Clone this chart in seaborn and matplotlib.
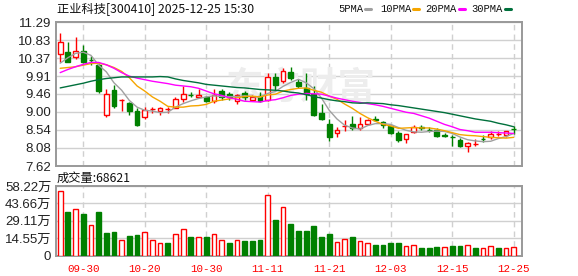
import numpy as np
import pandas as pd
import matplotlib
matplotlib.use("Agg")
import matplotlib.pyplot as plt
import seaborn as sns
from matplotlib.lines import Line2D

# ---------------- data ----------------
dates = ["09-25", "09-26", "09-29", "09-30", "10-09", "10-10", "10-13", "10-14", "10-15", "10-16",
         "10-17", "10-20", "10-21", "10-22", "10-23", "10-24", "10-27", "10-28", "10-29", "10-30",
         "10-31", "11-03", "11-04", "11-05", "11-06", "11-07", "11-10", "11-11", "11-12", "11-13",
         "11-14", "11-17", "11-18", "11-19", "11-20", "11-21", "11-24", "11-25", "11-26", "11-27",
         "11-28", "12-01", "12-02", "12-03", "12-04", "12-05", "12-08", "12-09", "12-10", "12-11",
         "12-12", "12-15", "12-16", "12-17", "12-18", "12-19", "12-22", "12-23", "12-24", "12-25"]

opens = [10.48, 10.52, 10.39, 10.56, 10.32, 10.19, 8.93, 9.56, 9.30, 9.22,
         9.03, 8.88, 9.06, 9.01, 9.07, 9.10, 9.33, 9.43, 9.37, 9.38,
         9.28, 9.54, 9.45, 9.27, 9.48, 9.31, 9.41, 9.31, 9.90, 9.79,
         10.02, 9.77, 9.60, 9.46, 8.97, 8.70, 8.46, 8.63, 8.70, 8.59,
         8.69, 8.83, 8.74, 8.63, 8.46, 8.32, 8.48, 8.61, 8.55, 8.55,
         8.40, 8.37, 8.27, 8.12, 8.18, 8.31, 8.36, 8.43, 8.40, 8.57]
closes = [10.77, 10.28, 10.56, 10.27, 10.31, 9.52, 9.45, 9.16, 9.31, 9.03,
          8.66, 9.04, 9.07, 9.10, 9.08, 9.33, 9.45, 9.42, 9.43, 9.28,
          9.42, 9.39, 9.38, 9.43, 9.38, 9.37, 9.27, 9.89, 9.69, 10.03,
          9.87, 9.67, 9.45, 8.91, 8.83, 8.35, 8.55, 8.64, 8.59, 8.69,
          8.80, 8.78, 8.66, 8.46, 8.29, 8.44, 8.61, 8.60, 8.54, 8.38,
          8.39, 8.36, 8.13, 8.21, 8.19, 8.30, 8.44, 8.44, 8.50, 8.56]
highs = [11.01, 10.77, 10.91, 10.70, 10.43, 10.22, 9.58, 9.68, 9.34, 9.26,
         9.10, 9.12, 9.12, 9.12, 9.12, 9.37, 9.65, 9.51, 9.57, 9.40,
         9.58, 9.59, 9.51, 9.45, 9.54, 9.44, 9.51, 9.99, 9.99, 10.13,
         10.15, 9.83, 10.00, 9.65, 9.20, 8.83, 8.61, 8.78, 8.89, 8.87,
         8.83, 8.90, 8.77, 8.65, 8.52, 8.44, 8.67, 8.67, 8.61, 8.59,
         8.45, 8.42, 8.34, 8.23, 8.31, 8.42, 8.50, 8.51, 8.52, 8.63]
lows = [10.28, 10.26, 10.34, 10.24, 10.20, 9.49, 8.87, 9.11, 9.03, 8.93,
        8.65, 8.83, 8.97, 8.93, 8.97, 9.10, 9.25, 9.37, 9.37, 9.25,
        9.23, 9.31, 9.31, 9.19, 9.31, 9.28, 9.25, 9.27, 9.55, 9.73,
        9.82, 9.62, 9.31, 8.89, 8.78, 8.25, 8.35, 8.52, 8.55, 8.55,
        8.66, 8.76, 8.59, 8.44, 8.23, 8.20, 8.45, 8.55, 8.49, 8.36,
        8.35, 8.12, 8.10, 7.98, 8.12, 8.22, 8.32, 8.38, 8.36, 8.44]

# volume in 万 (10k), colour as shown in the volume panel (R = up, G = down)
volumes = [54.0, 36.4, 38.7, 34.7, 25.2, 36.4, 18.7, 19.6, 12.8, 16.2,
           17.1, 19.3, 12.8, 10.1, 10.3, 17.6, 22.0, 15.4, 15.1, 15.4,
           17.6, 13.4, 10.3, 12.8, 12.0, 12.0, 13.0, 50.4, 29.7, 40.3,
           26.3, 20.4, 20.4, 24.6, 15.4, 17.9, 10.9, 13.6, 15.4, 11.9,
           10.1, 8.7, 8.7, 10.3, 10.3, 7.6, 9.2, 6.1, 6.1, 7.0,
           7.0, 7.8, 7.8, 9.2, 6.1, 6.1, 7.6, 6.1, 6.1, 6.86]
vol_up = ("RGRGRGGGRG" "GRRRGRRGRG" "RRGRGGGRGR"
          "GGGGGGRRGR" "RGGGGRRGGG" "RGGRGRRGRR")

ma5 = [10.24, 10.38, 10.49, 10.52, 10.44, 10.19, 10.02, 9.74, 9.55, 9.29,
       9.12, 9.04, 9.02, 8.98, 8.99, 9.12, 9.21, 9.28, 9.34, 9.38,
       9.41, 9.39, 9.39, 9.39, 9.41, 9.39, 9.37, 9.47, 9.52, 9.65,
       9.75, 9.83, 9.74, 9.59, 9.35, 9.04, 8.82, 8.66, 8.59, 8.56,
       8.65, 8.70, 8.70, 8.68, 8.60, 8.53, 8.49, 8.48, 8.50, 8.51,
       8.50, 8.45, 8.36, 8.29, 8.26, 8.24, 8.25, 8.32, 8.37, 8.45]
ma10 = [10.11, 10.13, 10.15, 10.19, 10.23, 10.24, 10.20, 10.13, 10.03, 9.87,
        9.66, 9.53, 9.38, 9.27, 9.14, 9.12, 9.12, 9.15, 9.16, 9.19,
        9.27, 9.30, 9.33, 9.36, 9.39, 9.40, 9.38, 9.43, 9.45, 9.53,
        9.57, 9.60, 9.61, 9.55, 9.50, 9.40, 9.32, 9.20, 9.09, 8.96,
        8.85, 8.76, 8.68, 8.64, 8.58, 8.59, 8.60, 8.59, 8.59, 8.56,
        8.52, 8.47, 8.42, 8.40, 8.39, 8.37, 8.35, 8.34, 8.33, 8.35]
ma20 = [10.00, 10.08, 10.15, 10.21, 10.26, 10.26, 10.20, 10.11, 10.00, 9.91,
        9.86, 9.82, 9.78, 9.75, 9.72, 9.68, 9.66, 9.64, 9.60, 9.53,
        9.46, 9.42, 9.36, 9.32, 9.27, 9.26, 9.25, 9.29, 9.31, 9.36,
        9.42, 9.45, 9.47, 9.46, 9.45, 9.40, 9.35, 9.31, 9.27, 9.24,
        9.21, 9.18, 9.14, 9.09, 9.04, 8.99, 8.96, 8.90, 8.84, 8.76,
        8.68, 8.62, 8.55, 8.52, 8.48, 8.48, 8.48, 8.47, 8.46, 8.45]
ma30 = [9.61, 9.65, 9.69, 9.73, 9.78, 9.82, 9.85, 9.87, 9.89, 9.89,
        9.89, 9.89, 9.89, 9.90, 9.89, 9.84, 9.80, 9.77, 9.74, 9.70,
        9.68, 9.66, 9.64, 9.62, 9.61, 9.59, 9.57, 9.56, 9.55, 9.53,
        9.50, 9.48, 9.44, 9.39, 9.35, 9.31, 9.28, 9.26, 9.23, 9.22,
        9.23, 9.22, 9.21, 9.18, 9.16, 9.13, 9.10, 9.07, 9.04, 9.01,
        8.98, 8.94, 8.90, 8.86, 8.82, 8.79, 8.76, 8.71, 8.67, 8.62]

price_ticks = ["11.29", "10.83", "10.37", "9.91", "9.46", "9.00", "8.54", "8.08", "7.62"]
vol_ticks = [0, 14.55, 29.11, 43.66, 58.22]
vol_tick_labels = ["0", "14.55万", "29.11万", "43.66万", "58.22万"]
date_ticks = ["09-30", "10-20", "10-30", "11-11", "11-21", "12-03", "12-15", "12-25"]
ma_names = ["5PMA", "10PMA", "20PMA", "30PMA"]
ma_colors = ["#a0a0a0", "#f5a500", "#ff00ff", "#00703c"]
title = "正业科技[300410] 2025-12-25 15:30"
vol_title = "成交量:68621"

# ---------------- style ----------------
sns.set_style("white")
plt.rcParams['font.family'] = ['Liberation Sans', 'Noto Sans CJK SC']

RED = "#ff0000"
GREEN = "#008000"
GRID = "#d0d0d0"
SPINE = "#999999"

W, H = 578, 276
fig = plt.figure(figsize=(W / 100, H / 100), dpi=100)
fig.patch.set_facecolor("white")

def fx(px):
    return px / W

def fy(py):
    return 1 - py / H

L, R = 55.5, 522.0
ax = fig.add_axes([fx(L), fy(166), (R - L) / W, (166 - 22) / H])
axv = fig.add_axes([fx(L), fy(255.5), (R - L) / W, (255.5 - 186) / H])

n = len(dates)
x = np.arange(n)
o = np.array(opens); c = np.array(closes)
hi = np.array(highs); lo = np.array(lows)
up = c >= o
bw = 0.62

# ---- price panel ----
tick_pos = [dates.index(d) for d in date_ticks]
pvals = [float(t) for t in price_ticks]
for v in pvals:
    ax.axhline(v, color=GRID, lw=1, zorder=0)
for p in tick_pos:
    ax.axvline(p, color=GRID, lw=1, ls=(0, (4, 3)), zorder=0)

ax.text(0.525, 0.54, "东方财富", transform=ax.transAxes, ha="center", va="center",
        fontsize=27, color="#ededed", fontweight="bold", style="italic",
        family=["Noto Sans CJK SC"], zorder=0.5)

cols = np.where(up, RED, GREEN)
ax.vlines(x, lo, hi, colors=cols, lw=1, zorder=2)
ax.bar(x[up], (c - o)[up], bottom=o[up], width=bw, facecolor="white",
       edgecolor=RED, linewidth=1, zorder=3)
ax.bar(x[~up], (c - o)[~up], bottom=o[~up], width=bw, facecolor=GREEN,
       edgecolor=GREEN, linewidth=1, zorder=3)

ma_df = pd.DataFrame({"idx": np.tile(x, 4),
                      "value": np.concatenate([ma5, ma10, ma20, ma30]),
                      "ma": np.repeat(ma_names, n)})
sns.lineplot(data=ma_df, x="idx", y="value", hue="ma", palette=dict(zip(ma_names, ma_colors)),
             linewidth=1, ax=ax, legend=False, zorder=4)

ax.set_xlim(-0.61, 60.08)
ax.set_ylim(7.62, 11.29)
ax.set_yticks(pvals)
ax.set_yticklabels(price_ticks, fontsize=9.5, color="#222222")
ax.set_xticks([])
ax.set_xlabel(""); ax.set_ylabel("")
ax.tick_params(axis="y", length=0, pad=3)

# ---- volume panel ----
for v in vol_ticks:
    axv.axhline(v, color=GRID, lw=1, zorder=0)
for p in tick_pos:
    axv.axvline(p, color=GRID, lw=1, ls=(0, (4, 3)), zorder=0)
vu = np.array([ch == "R" for ch in vol_up])
vol = np.array(volumes)
axv.bar(x[vu], vol[vu], width=bw, facecolor="white", edgecolor=RED, linewidth=1, zorder=3)
axv.bar(x[~vu], vol[~vu], width=bw, facecolor=GREEN, edgecolor=GREEN, linewidth=1, zorder=3)
axv.set_xlim(-0.61, 60.08)
axv.set_ylim(0, 58.22)
axv.set_yticks(vol_ticks)
axv.set_yticklabels(vol_tick_labels, fontsize=9.5, color="#222222")
axv.set_xticks(tick_pos)
axv.set_xticklabels(date_ticks, fontsize=7.8, color=RED, family=["Liberation Mono"])
axv.tick_params(axis="both", length=0)
axv.tick_params(axis="y", pad=3)
axv.tick_params(axis="x", pad=6)

for a in (ax, axv):
    for s in a.spines.values():
        s.set_visible(True)
        s.set_color(SPINE)
        s.set_linewidth(1.4)

# ---- texts / legend ----
fig.text(fx(57), fy(9), title, fontsize=8.8, va="center", ha="left", color="#111111",
         family=["Noto Sans CJK SC"])
fig.text(fx(57), fy(178), vol_title, fontsize=8.8, va="center", ha="left", color="#111111",
         family=["Noto Sans CJK SC"])

leg_text_x = [338.7, 380.0, 425.7, 471.3]
leg_dash_x = [364.7, 413.0, 459.0, 504.7]
for name, col, tx, dx in zip(ma_names, ma_colors, leg_text_x, leg_dash_x):
    fig.text(fx(tx), fy(9), name, fontsize=7.6, va="center", ha="left", color="#111111",
             family=["Liberation Mono"])
    fig.add_artist(Line2D([fx(dx), fx(dx + 6)], [fy(8.5), fy(8.5)], color=col, lw=2.2,
                          transform=fig.transFigure))

fig.savefig("out.png", dpi=100, facecolor="white")
